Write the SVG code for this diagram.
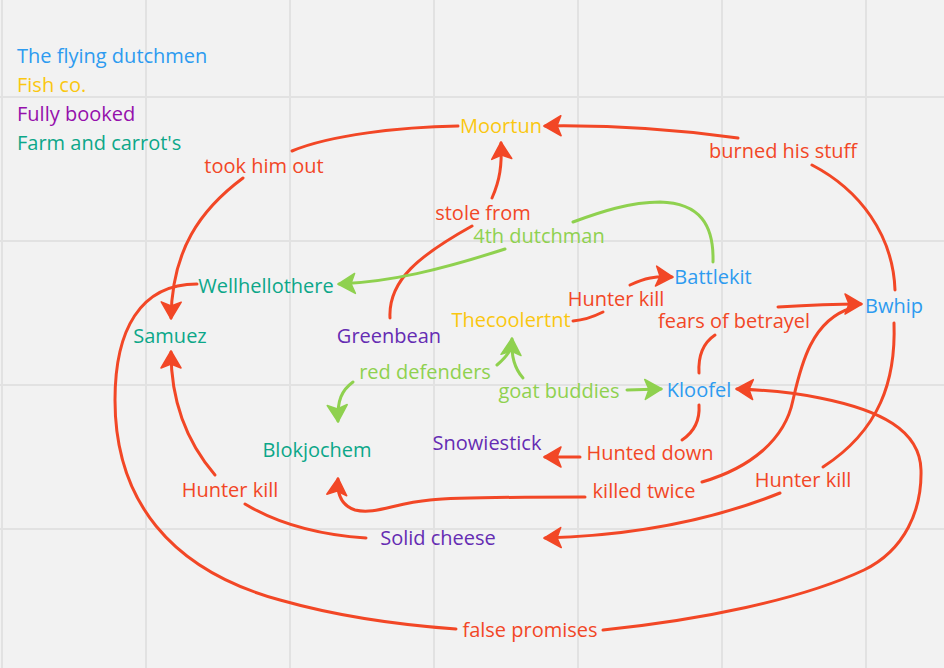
<svg xmlns="http://www.w3.org/2000/svg" width="944" height="668" viewBox="0 0 944 668">
<defs>
<style>
text{font-family:"Open Sans","Noto Sans","Liberation Sans",sans-serif;font-size:20px}
.grid{stroke:#e2e2e2;stroke-width:2;fill:none}
.r{stroke:#f24726;stroke-width:3;fill:none;stroke-linecap:round}
.g{stroke:#8fd14f;stroke-width:3;fill:none;stroke-linecap:round}
.ar{marker-end:url(#mr)}
.ag{marker-end:url(#mg)}
.lr{fill:#f24726;text-anchor:middle}
.lg{fill:#8fd14f;text-anchor:middle}
.blue{fill:#2d9bf0}
.yel{fill:#fac710}
.pur{fill:#652cb3}
.teal{fill:#0ca789}
.mag{fill:#9510ac}
.n{text-anchor:middle}
</style>
<marker id="mr" viewBox="-20 -12 24 24" markerWidth="24" markerHeight="24" refX="0" refY="0" orient="auto" markerUnits="userSpaceOnUse">
<path d="M1,0 L-16,-10 L-12,0 L-16,10 Z" fill="#f24726" stroke="#f24726" stroke-width="1.5" stroke-linejoin="round"/>
</marker>
<marker id="mg" viewBox="-20 -12 24 24" markerWidth="24" markerHeight="24" refX="0" refY="0" orient="auto" markerUnits="userSpaceOnUse">
<path d="M1,0 L-16,-10 L-12,0 L-16,10 Z" fill="#8fd14f" stroke="#8fd14f" stroke-width="1.5" stroke-linejoin="round"/>
</marker>
</defs>
<rect x="0" y="0" width="944" height="668" fill="#f2f2f2"/>
<g id="grid" class="grid">
<path d="M2,0V668M146,0V668M290,0V668M434,0V668M578,0V668M722,0V668M866,0V668"/>
<path d="M0,97H944M0,241H944M0,385H944M0,529H944"/>
</g>
<g id="legend">
<text x="17" y="63" class="blue">The flying dutchmen</text>
<text x="17" y="92" class="yel">Fish co.</text>
<text x="17" y="121" class="mag">Fully booked</text>
<text x="17" y="150" class="teal">Farm and carrot's</text>
</g>
<g id="connectors">
<g id="c-took-him-out">
<path class="r" d="M458,126 C400,127 330,135 292,151"/>
<path class="r ar" d="M243,178 C200,210 172,250 171,318"/>
<text x="264" y="173" class="lr">took him out</text>
</g>
<g id="c-burned">
<path class="r ar" d="M738,138 C680,130 610,125 545,126"/>
<path class="r" d="M812,165 C860,190 893,235 895,290"/>
<text x="783" y="158" class="lr">burned his stuff</text>
</g>
<g id="c-hunter-kill-bwhip">
<path class="r" d="M894,323 C896,380 880,430 823,467"/>
<path class="r ar" d="M780,493 C700,525 620,536 545,538"/>
<text x="803" y="487" class="lr">Hunter kill</text>
</g>
<g id="c-stole">
<path class="r" d="M390,318 C388,280 420,255 472,226"/>
<path class="r ar" d="M492,198 C500,180 502,165 501,143"/>
<text x="483" y="220" class="lr">stole from</text>
</g>
<g id="c-4th">
<path class="g" d="M713,262 C714,225 700,203 660,202 C630,202 600,212 573,222"/>
<path class="g ag" d="M505,249 C440,270 390,282 339,284"/>
<text x="539" y="243" class="lg">4th dutchman</text>
</g>
<g id="c-hunter-kill-battlekit">
<path class="r" d="M573,321 C585,320 595,316 603,312"/>
<path class="r ar" d="M630,285 C645,278 655,276 672,277"/>
<text x="616" y="306" class="lr">Hunter kill</text>
</g>
<g id="c-red-defenders">
<path class="g" d="M497,365 C503,360 507,356 510,350"/>
<path class="g ag" d="M353,382 C342,390 337,400 338,421"/>
<text x="425" y="379" class="lg">red defenders</text>
</g>
<g id="c-goat">
<path class="g ag" d="M523,378 C514,368 511,355 512,339"/>
<path class="g ag" d="M627,390 L661,389"/>
<text x="559" y="398" class="lg">goat buddies</text>
</g>
<g id="c-fears">
<path class="r" d="M699,373 C698,355 703,343 715,335"/>
<path class="r ar" d="M778,307 C810,305 835,304 861,304"/>
<text x="734" y="328" class="lr">fears of betrayel</text>
</g>
<g id="c-hunted">
<path class="r" d="M699,405 C700,420 694,432 682,440"/>
<path class="r ar" d="M580,457 L545,457"/>
<text x="650" y="460" class="lr">Hunted down</text>
</g>
<g id="c-killed">
<path class="r" d="M852,308 C810,320 800,370 793,400 C785,440 750,468 702,482"/>
<path class="r ar" d="M585,497 C520,497 460,497 430,500 C395,503 375,515 355,510 C340,505 337,492 338,479"/>
<text x="644" y="498" class="lr">killed twice</text>
</g>
<g id="c-hunter-kill-samuez">
<path class="r" d="M366,538 C320,535 280,525 245,504"/>
<path class="r ar" d="M215,475 C185,440 171,400 171,352"/>
<text x="230" y="497" class="lr">Hunter kill</text>
</g>
<g id="c-false">
<path class="r" d="M197,284 C140,284 115,330 115,400 C115,500 170,570 280,600 C340,617 400,625 456,629"/>
<path class="r ar" d="M603,630 C700,620 800,600 864,570 C905,550 922,510 921,470 C920,430 880,410 820,398 C790,392 765,390 737,389"/>
<text x="530" y="637" class="lr">false promises</text>
</g>
</g>
<g id="n-moortun"><text x="501" y="133" class="n yel">Moortun</text></g>
<g id="n-battlekit"><text x="713" y="284" class="n blue">Battlekit</text></g>
<g id="n-bwhip"><text x="894" y="313" class="n blue">Bwhip</text></g>
<g id="n-kloofel"><text x="699" y="397" class="n blue">Kloofel</text></g>
<g id="n-thecoolertnt"><text x="511" y="327" class="n yel">Thecoolertnt</text></g>
<g id="n-greenbean"><text x="389" y="343" class="n pur">Greenbean</text></g>
<g id="n-snowiestick"><text x="487" y="450" class="n pur">Snowiestick</text></g>
<g id="n-solid-cheese"><text x="438" y="545" class="n pur">Solid cheese</text></g>
<g id="n-wellhellothere"><text x="266" y="293" class="n teal">Wellhellothere</text></g>
<g id="n-samuez"><text x="170" y="343" class="n teal">Samuez</text></g>
<g id="n-blokjochem"><text x="317" y="457" class="n teal">Blokjochem</text></g>
</svg>
